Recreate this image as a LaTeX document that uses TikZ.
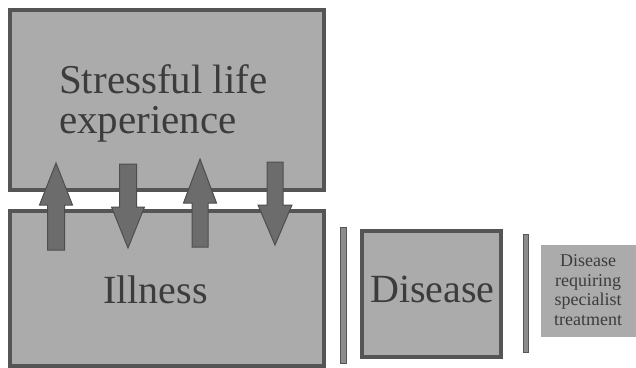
\documentclass[tikz,border=0pt]{standalone}
\usepackage{fontspec}
\setmainfont{Liberation Serif}
\definecolor{boxfill}{HTML}{ABABAB}
\definecolor{boxline}{HTML}{555555}
\definecolor{arrfill}{HTML}{6C6C6C}
\definecolor{arrline}{HTML}{4E4E4E}
\definecolor{txt}{HTML}{3C3C3C}
\definecolor{barfill}{HTML}{8C8C8C}
\begin{document}
\begin{tikzpicture}[x=1pt,y=-1pt,
  bigbox/.style={draw=boxline,fill=boxfill,line width=3.5pt},
  blockarrow/.style={draw=arrline,fill=arrfill,line width=1pt,line join=miter},
  sepbar/.style={draw=boxline,fill=barfill,line width=1pt},
  lbl/.style={text=txt,inner sep=0pt,font=\fontsize{40}{40}\selectfont,align=left}]
\useasboundingbox (0,0) rectangle (636,367);
\fill[white] (0,0) rectangle (636,367);
% boxes
\draw[bigbox] (10,10) rectangle (324,190);
\draw[bigbox] (10,211) rectangle (324,366);
\node[lbl,anchor=base west,font=\fontsize{41}{41}\selectfont] (stress) at (59,93) {Stressful life};
\node[lbl,anchor=base west,font=\fontsize{41}{41}\selectfont] (exper) at (59,133) {experience};
\node[lbl,anchor=base west] (ill) at (103,303) {Illness};
% arrows
\newcommand\uparr[6]{% cx, tip, headbase, bottom, sw, hw
  \draw[blockarrow] (#1,#2) -- (#1+#6,#3) -- (#1+#5,#3) -- (#1+#5,#4) -- (#1-#5,#4) -- (#1-#5,#3) -- (#1-#6,#3) -- cycle;}
\uparr{56}{163}{205}{250}{8.5}{16.5}
\uparr{128}{248}{207}{164}{8.5}{16.5}
\uparr{200}{159}{203}{247}{8}{16.5}
\uparr{275}{245}{205}{162}{8}{17}
% separators
\draw[sepbar] (340,227) rectangle (346,363);
\draw[sepbar] (523.5,234) rectangle (528.5,352);
% disease box
\node[draw=boxline,fill=boxfill,line width=3.5pt,minimum width=139pt,minimum height=126pt,inner sep=0pt] (dis) at (431.5,294) {};
\node[lbl,anchor=base] (distext) at (432.5,302) {Disease};
% specialist box
\node[fill=boxfill,minimum width=95pt,minimum height=92pt,inner sep=0pt] (spec) at (588.5,291) {};
\node[text=txt,align=center,inner sep=0pt,font=\fontsize{18}{19.5}\selectfont] (spectext) at (588,290) {Disease\\requiring\\specialist\\treatment};
\end{tikzpicture}
\end{document}
